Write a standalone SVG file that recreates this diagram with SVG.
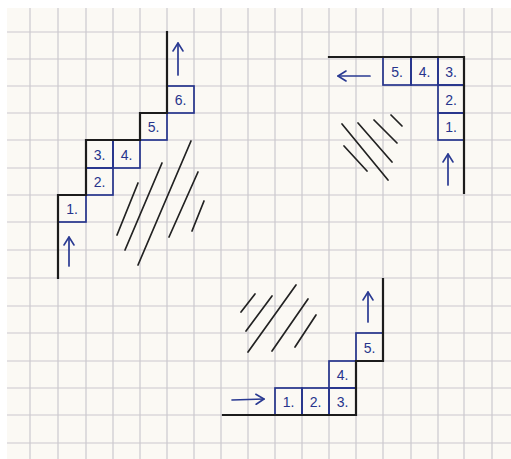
<svg xmlns="http://www.w3.org/2000/svg" width="511" height="459" viewBox="0 0 511 459">
<style>
.grid line{stroke:#cbc8ce;stroke-width:1.2}
.ink{fill:none;stroke:#1c1c1c;stroke-width:2.2;stroke-linecap:square}
.box rect{fill:none;stroke:#26348c;stroke-width:1.7}
.box text{font-family:"Liberation Sans",Arial,sans-serif;font-size:14px;fill:#26348c;text-anchor:middle}
.arr{fill:none;stroke:#2a3a92;stroke-width:1.7;stroke-linecap:round}
.hatch line{stroke:#222;stroke-width:1.7;stroke-linecap:round}
</style>
<defs>
<marker id="ah" viewBox="0 0 10 12" refX="9" refY="6" markerWidth="10" markerHeight="12" markerUnits="userSpaceOnUse" orient="auto">
<path d="M1,1 L9,6 L1,11" fill="none" stroke="#2a3a92" stroke-width="1.6" stroke-linecap="round" stroke-linejoin="round"/>
</marker>
</defs>
<rect width="511" height="459" fill="#ffffff"/>
<rect x="7" y="8" width="504" height="451" fill="#fbf9f4"/>
<g class="grid" id="grid">
<line x1="30" y1="8" x2="30" y2="459"/><line x1="58" y1="8" x2="58" y2="459"/><line x1="86" y1="8" x2="86" y2="459"/><line x1="113" y1="8" x2="113" y2="459"/><line x1="140" y1="8" x2="140" y2="459"/><line x1="167" y1="8" x2="167" y2="459"/><line x1="194" y1="8" x2="194" y2="459"/><line x1="221" y1="8" x2="221" y2="459"/><line x1="248" y1="8" x2="248" y2="459"/><line x1="275" y1="8" x2="275" y2="459"/><line x1="302" y1="8" x2="302" y2="459"/><line x1="329" y1="8" x2="329" y2="459"/><line x1="356" y1="8" x2="356" y2="459"/><line x1="383" y1="8" x2="383" y2="459"/><line x1="411" y1="8" x2="411" y2="459"/><line x1="438" y1="8" x2="438" y2="459"/><line x1="464" y1="8" x2="464" y2="459"/><line x1="492" y1="8" x2="492" y2="459"/>
<line x1="7" y1="32" x2="511" y2="32"/><line x1="7" y1="59" x2="511" y2="59"/><line x1="7" y1="86" x2="511" y2="86"/><line x1="7" y1="113" x2="511" y2="113"/><line x1="7" y1="140" x2="511" y2="140"/><line x1="7" y1="168" x2="511" y2="168"/><line x1="7" y1="195" x2="511" y2="195"/><line x1="7" y1="222" x2="511" y2="222"/><line x1="7" y1="250" x2="511" y2="250"/><line x1="7" y1="278" x2="511" y2="278"/><line x1="7" y1="306" x2="511" y2="306"/><line x1="7" y1="333" x2="511" y2="333"/><line x1="7" y1="361" x2="511" y2="361"/><line x1="7" y1="388" x2="511" y2="388"/><line x1="7" y1="415" x2="511" y2="415"/><line x1="7" y1="443" x2="511" y2="443"/>
</g>
<g id="stairs-left">
<g class="box" id="tl-1"><rect x="58" y="195" width="28" height="27"/><text x="72" y="213.5">1.</text></g>
<g class="box" id="tl-2"><rect x="86" y="168" width="27" height="27"/><text x="99.5" y="186.5">2.</text></g>
<g class="box" id="tl-3"><rect x="86" y="140" width="27" height="28"/><text x="99.5" y="159.5">3.</text></g>
<g class="box" id="tl-4"><rect x="113" y="140" width="27" height="28"/><text x="126.5" y="159.5">4.</text></g>
<g class="box" id="tl-5"><rect x="140" y="113" width="27" height="27"/><text x="153.5" y="131.5">5.</text></g>
<g class="box" id="tl-6"><rect x="167" y="86" width="27" height="27"/><text x="180.5" y="104.5">6.</text></g>
<path class="ink" d="M58,278 V195 H86 V140 H140 V113 H167 V32"/>
</g>
<g id="stairs-right">
<g class="box" id="tr-5"><rect x="383" y="57" width="28" height="28"/><text x="397" y="76.5">5.</text></g>
<g class="box" id="tr-4"><rect x="411" y="57" width="27" height="28"/><text x="424.5" y="76.5">4.</text></g>
<g class="box" id="tr-3"><rect x="438" y="57" width="26" height="28"/><text x="451" y="76.5">3.</text></g>
<g class="box" id="tr-2"><rect x="438" y="85" width="26" height="28"/><text x="451" y="104.5">2.</text></g>
<g class="box" id="tr-1"><rect x="438" y="113" width="26" height="27"/><text x="451" y="131.5">1.</text></g>
<path class="ink" d="M329,57 H464 V193"/>
</g>
<g id="stairs-bottom">
<g class="box" id="b-1"><rect x="275" y="388" width="27" height="27"/><text x="288.5" y="406.5">1.</text></g>
<g class="box" id="b-2"><rect x="302" y="388" width="27" height="27"/><text x="315.5" y="406.5">2.</text></g>
<g class="box" id="b-3"><rect x="329" y="388" width="27" height="27"/><text x="342.5" y="406.5">3.</text></g>
<g class="box" id="b-4"><rect x="329" y="361" width="27" height="27"/><text x="342.5" y="379.5">4.</text></g>
<g class="box" id="b-5"><rect x="356" y="333" width="27" height="28"/><text x="369.5" y="352.5">5.</text></g>
<path class="ink" d="M223,415 H356 V361 H383 V279"/>
</g>
<g id="connectors">
<line class="arr" x1="178" y1="75" x2="178" y2="43" marker-end="url(#ah)"/>
<line class="arr" x1="69" y1="266" x2="69" y2="237" marker-end="url(#ah)"/>
<line class="arr" x1="370" y1="76" x2="338" y2="76" marker-end="url(#ah)"/>
<line class="arr" x1="448" y1="185" x2="448" y2="154" marker-end="url(#ah)"/>
<line class="arr" x1="368" y1="322" x2="368" y2="292" marker-end="url(#ah)"/>
<line class="arr" x1="232" y1="400" x2="264" y2="399" marker-end="url(#ah)"/>
</g>
<g class="hatch" id="hatching">
<line x1="117" y1="235" x2="138" y2="183"/>
<line x1="125" y1="250" x2="162" y2="163"/>
<line x1="138" y1="265" x2="191" y2="141"/>
<line x1="169" y1="237" x2="198" y2="172"/>
<line x1="192" y1="231" x2="204" y2="201"/>
<line x1="342" y1="124" x2="388" y2="180"/>
<line x1="358" y1="123" x2="392" y2="162"/>
<line x1="374" y1="120" x2="397" y2="143"/>
<line x1="391" y1="115" x2="402" y2="126"/>
<line x1="344" y1="146" x2="367" y2="171"/>
<line x1="241" y1="312" x2="255" y2="294"/>
<line x1="246" y1="331" x2="272" y2="296"/>
<line x1="248" y1="352" x2="296" y2="285"/>
<line x1="272" y1="351" x2="308" y2="299"/>
<line x1="295" y1="347" x2="316" y2="315"/>
</g>
</svg>
